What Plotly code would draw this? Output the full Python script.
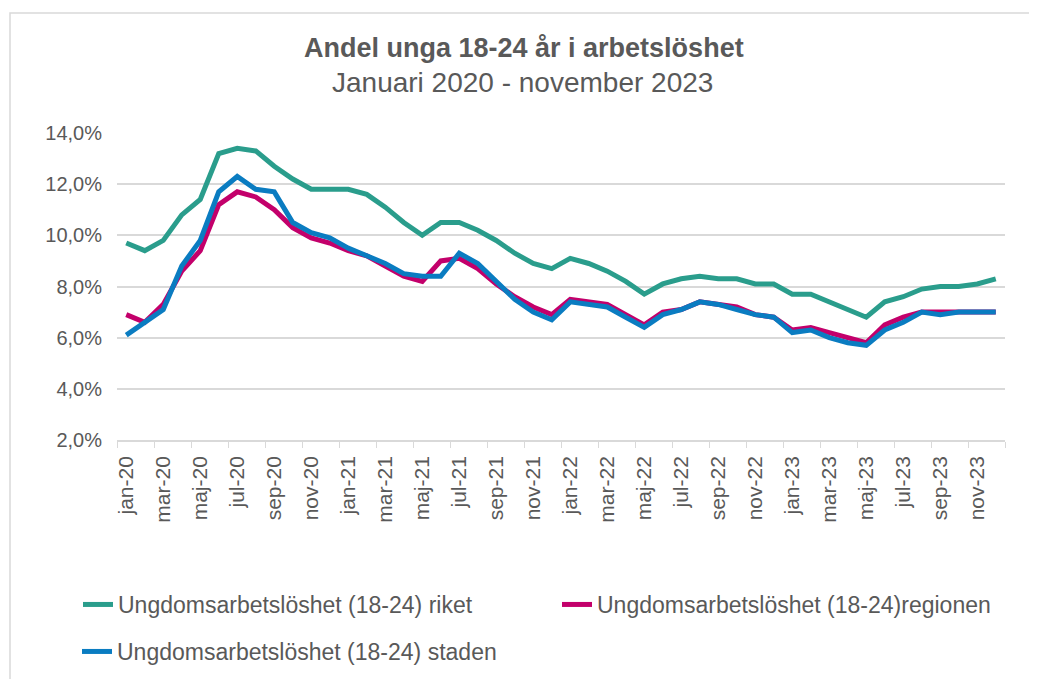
import plotly.graph_objects as go

months = []
mnames = ["jan", "feb", "mar", "apr", "maj", "jun", "jul", "aug", "sep", "okt", "nov", "dec"]
for yr in ["20", "21", "22", "23"]:
    for m in mnames:
        months.append(f"{m}-{yr}")

riket = [9.7, 9.4, 9.8, 10.8, 11.4, 13.2, 13.4, 13.3, 12.7, 12.2, 11.8, 11.8,
         11.8, 11.6, 11.1, 10.5, 10.0, 10.5, 10.5, 10.2, 9.8, 9.3, 8.9, 8.7,
         9.1, 8.9, 8.6, 8.2, 7.7, 8.1, 8.3, 8.4, 8.3, 8.3, 8.1, 8.1,
         7.7, 7.7, 7.4, 7.1, 6.8, 7.4, 7.6, 7.9, 8.0, 8.0, 8.1, 8.3]
regionen = [6.9, 6.6, 7.3, 8.6, 9.4, 11.2, 11.7, 11.5, 11.0, 10.3, 9.9, 9.7,
            9.4, 9.2, 8.8, 8.4, 8.2, 9.0, 9.1, 8.7, 8.1, 7.6, 7.2, 6.9,
            7.5, 7.4, 7.3, 6.9, 6.5, 7.0, 7.1, 7.4, 7.3, 7.2, 6.9, 6.8,
            6.3, 6.4, 6.2, 6.0, 5.8, 6.5, 6.8, 7.0, 7.0, 7.0, 7.0, 7.0]
staden = [6.1, 6.6, 7.1, 8.8, 9.8, 11.7, 12.3, 11.8, 11.7, 10.5, 10.1, 9.9,
          9.5, 9.2, 8.9, 8.5, 8.4, 8.4, 9.3, 8.9, 8.2, 7.5, 7.0, 6.7,
          7.4, 7.3, 7.2, 6.8, 6.4, 6.9, 7.1, 7.4, 7.3, 7.1, 6.9, 6.8,
          6.2, 6.3, 6.0, 5.8, 5.7, 6.3, 6.6, 7.0, 6.9, 7.0, 7.0, 7.0]

series_names = ["Ungdomsarbetslöshet (18-24) riket",
                "Ungdomsarbetslöshet (18-24)regionen",
                "Ungdomsarbetslöshet (18-24) staden"]
colors = ["#2a9d8c", "#c3006b", "#0a7cc1"]
y_ticks = [2, 4, 6, 8, 10, 12, 14]
y_ticktext = ["2,0%", "4,0%", "6,0%", "8,0%", "10,0%", "12,0%", "14,0%"]

# page offset from default body margin
OFF = 8
W, H = 1037 - OFF, 679 - OFF
# plot area in page pixels: x 117..1005, y 133..440
PL, PR, PT, PB = 117, 1005, 133, 440
L = PL - OFF
T = PT - OFF
R = W - (PR - OFF)
B = H - (PB - OFF)
pw = PR - PL
ph = PB - PT

def px_x(p):
    return (p - PL) / pw

def px_y(p):
    return (PB - p) / ph

txt = "#595959"
font_fam = "Liberation Sans, Arial, sans-serif"

fig = go.Figure()
fig.add_trace(go.Scatter(x=months, y=riket, name=series_names[0], mode="lines",
                         line=dict(color=colors[0], width=5), legend="legend"))
fig.add_trace(go.Scatter(x=months, y=regionen, name=series_names[1], mode="lines",
                         line=dict(color=colors[1], width=5), legend="legend"))
fig.add_trace(go.Scatter(x=months, y=staden, name=series_names[2], mode="lines",
                         line=dict(color=colors[2], width=5), legend="legend2"))

fig.update_layout(
    width=W, height=H,
    margin=dict(l=L, r=R, t=T, b=B, autoexpand=False),
    paper_bgcolor="white", plot_bgcolor="white",
    font=dict(family=font_fam, color=txt, size=19),
    showlegend=True,
    legend=dict(orientation="h", x=px_x(78), y=px_y(583),
                xanchor="left", yanchor="top",
                font=dict(size=23, color=txt), entrywidth=434, bgcolor="rgba(0,0,0,0)",
                itemwidth=30),
    legend2=dict(orientation="h", x=px_x(77), y=px_y(630),
                 xanchor="left", yanchor="top",
                 font=dict(size=23, color=txt), bgcolor="rgba(0,0,0,0)", itemwidth=30),
    xaxis=dict(type="category", tickmode="linear", dtick=2, tick0=0,
               tickangle=-90, tickson="boundaries", ticks="outside", ticklen=6,
               tickcolor="#d9d9d9", showgrid=False, showline=True, linecolor="#d9d9d9",
               linewidth=1.5, tickfont=dict(size=21, color=txt), range=[-0.5, 47.5],
               ticklabelstandoff=6, automargin=False),
    yaxis=dict(range=[2, 14], tickvals=y_ticks, ticktext=y_ticktext,
               showgrid=True, gridcolor="#d9d9d9", gridwidth=1.5, zeroline=False,
               showline=False, tickfont=dict(size=20, color=txt), ticks="",
               ticklabelstandoff=14, automargin=False),
    annotations=[
        dict(text="<b>Andel unga 18-24 år i arbetslöshet</b>", xref="paper", yref="paper",
             x=px_x(524), y=px_y(48), xanchor="center", yanchor="middle", showarrow=False,
             font=dict(size=27, color=txt)),
        dict(text="Januari 2020 - november 2023", xref="paper", yref="paper",
             x=px_x(522), y=px_y(83), xanchor="center", yanchor="middle", showarrow=False,
             font=dict(size=28, color=txt)),
    ],
    shapes=[dict(type="rect", xref="paper", yref="paper", x0=px_x(10), x1=px_x(1033),
                 y0=px_y(720), y1=px_y(13), line=dict(color="#d9d9d9", width=1.5),
                 layer="below")],
)

fig.write_html("out.html")
